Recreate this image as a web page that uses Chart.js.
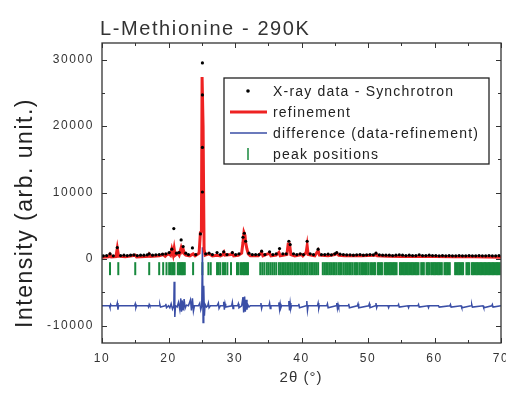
<!DOCTYPE html>
<html>
<head>
<meta charset="utf-8">
<script src="https://cdn.jsdelivr.net/npm/chart.js@4"></script>
<style>
  html, body { margin: 0; padding: 0; background: #fff; }
  #wrap { width: 506px; height: 395px; }
</style>
</head>
<body>
<div id="wrap"><canvas id="xrdChart" width="506" height="395"></canvas></div>
<script>
// observed X-ray points [2theta, intensity]
const xrayData = [
  [10.2,500],[10.7,550],[11.2,800],[11.7,500],[12.3,1750],[12.8,550],[13.3,600],[13.8,550],[14.3,600],[14.8,650],
  [15.3,550],[15.8,600],[16.3,600],[16.8,650],[17.1,800],[17.6,600],[18.1,650],[18.6,700],[19.1,750],[19.6,800],
  [20.1,1000],[20.5,1500],[20.8,4600],[21.2,900],[21.6,1000],[21.9,2900],[22.2,1900],[22.6,900],[23.0,700],[23.6,1700],
  [24.1,700],[24.8,3800],[25.1,10100],[25.1,16800],[25.1,24700],[25.1,29500],[25.6,800],[26.1,900],[26.6,700],[27.3,1000],
  [27.8,700],[28.3,1100],[28.8,700],[29.6,1000],[30.1,700],[30.6,800],[31.2,3300],[31.4,3900],[31.6,2700],[32.1,900],
  [32.6,700],[33.1,700],[33.6,700],[34.0,1200],[34.5,700],[35.2,1100],[35.7,700],[36.2,800],[36.7,1600],[37.2,800],
  [37.7,800],[38.1,2700],[38.3,2200],[38.8,800],[39.3,700],[39.8,800],[40.3,700],[40.85,2700],[41.3,800],[41.8,700],
  [42.5,1500],[43.0,700],[43.5,700],[44.0,750],[44.5,650],[45.0,800],[45.3,1000],[45.8,750],[46.3,700],[46.8,650],
  [47.3,650],[47.8,600],[48.3,650],[48.8,700],[49.3,600],[49.8,650],[50.3,700],[50.8,650],[51.2,900],[51.7,650],
  [52.2,600],[52.7,600],[53.2,600],[53.7,550],[54.2,600],[54.7,650],[55.2,600],[55.7,550],[56.2,600],[56.7,550],
  [57.2,550],[57.7,650],[58.2,550],[58.7,550],[59.2,600],[59.7,550],[60.2,550],[60.7,500],[61.2,550],[61.7,500],
  [62.2,550],[62.7,500],[63.2,500],[63.7,550],[64.2,500],[64.7,500],[65.2,550],[65.7,500],[66.2,500],[66.7,550],
  [67.2,500],[67.7,500],[68.2,550],[68.7,500],[69.2,500],[69.7,550]
];

// calculated profile
const refinement = [
  [10,300],[11.0,350],[11.2,700],[11.4,350],[12.1,400],[12.3,1650],[12.5,450],[13.5,350],[15.0,600],[15.2,350],
  [17.0,450],[17.1,700],[17.3,400],[18.6,500],[19.2,700],[19.5,450],[19.7,650],[20.1,800],[20.3,600],[20.5,1500],
  [20.7,700],[20.85,1600],[21.0,600],[21.4,900],[21.6,600],[21.9,1700],[22.05,1200],[22.2,1500],[22.4,800],[22.6,600],
  [23.2,500],[23.7,800],[24.0,500],[24.6,900],[24.8,4000],[24.95,4200],[25.05,27400],[25.2,20000],[25.3,20000],[25.35,1500],
  [25.5,600],[26.0,800],[26.3,700],[26.6,500],[27.3,600],[27.8,500],[28.2,700],[28.35,1000],[28.5,600],[29.4,700],
  [29.6,900],[29.8,500],[30.5,600],[31.0,900],[31.2,2500],[31.35,4000],[31.5,3600],[31.6,2500],[31.8,1500],[32.0,800],
  [32.3,500],[33.5,500],[34.0,1000],[34.2,500],[35.2,900],[35.4,500],[36.2,600],[36.6,1000],[36.8,500],[37.8,700],
  [38.0,2300],[38.2,2300],[38.4,700],[39.0,500],[40.0,700],[40.2,500],[40.7,1000],[40.85,2000],[41.0,700],[42.0,500],
  [42.5,1300],[42.7,600],[44.0,500],[45.0,700],[45.3,900],[45.6,600],[46.5,500],[48.0,500],[49.0,500],[51.0,600],
  [51.2,800],[51.4,500],[53,450],[55,400],[58,400],[60,400],[63,350],[66,350],[70,300]
];

// difference curve, drawn offset at -7000
const difference = [
  [10,-7000],[11.1,-7000],[11.2,-7300],[11.3,-6800],[11.4,-7000],[12.2,-7000],[12.3,-6600],[12.4,-7600],[12.5,-7000],[14.9,-7000],
  [15.0,-6700],[15.1,-7300],[15.2,-7000],[16.9,-7000],[17.0,-7200],[17.1,-6800],[17.2,-7000],[18.6,-7000],[18.7,-6800],[18.8,-7200],
  [19.5,-7000],[19.6,-6700],[19.7,-7300],[20.0,-7000],[20.2,-7300],[20.4,-6700],[20.6,-7500],[20.8,-7000],[20.85,-3400],[20.95,-8700],
  [21.05,-7000],[21.3,-7200],[21.5,-6500],[21.7,-7600],[21.85,-5900],[21.95,-7900],[22.05,-6200],[22.2,-7700],[22.35,-6000],[22.5,-7400],
  [22.7,-6900],[23.0,-7000],[23.3,-6100],[23.45,-7700],[23.6,-5900],[23.75,-7800],[23.9,-7000],[24.5,-7000],[24.7,-6600],[24.85,-7600],
  [25.0,-7000],[25.1,1800],[25.2,-9500],[25.3,-4000],[25.4,-8500],[25.5,-6800],[25.7,-7200],[25.9,-7000],[26.0,-6600],[26.1,-7300],
  [26.3,-7000],[27.3,-7000],[27.5,-6600],[27.6,-7400],[27.8,-7000],[28.2,-7000],[28.3,-6400],[28.4,-7600],[28.5,-6700],[28.6,-7200],
  [29.5,-7000],[29.6,-6500],[29.7,-7400],[29.8,-7000],[30.4,-7000],[30.5,-6700],[30.6,-7300],[31.0,-7000],[31.2,-5700],[31.3,-8000],
  [31.45,-5600],[31.55,-7900],[31.7,-6100],[31.8,-7600],[31.9,-6800],[32.1,-7200],[32.3,-7000],[33.8,-7000],[33.9,-6600],[34.0,-7400],
  [34.1,-7000],[35.1,-7000],[35.2,-6600],[35.3,-7400],[35.4,-7000],[36.5,-7000],[36.6,-6500],[36.7,-7500],[36.8,-6700],[36.9,-7300],
  [37.0,-7000],[38.0,-7000],[38.1,-6300],[38.2,-7700],[38.3,-6600],[38.4,-7400],[38.5,-7000],[39.5,-7000],[39.6,-6700],[39.7,-7300],
  [40.7,-7000],[40.8,-6300],[40.9,-7700],[41.0,-7000],[42.4,-7000],[42.5,-6600],[42.6,-7400],[42.7,-7000],[43.8,-7000],[43.9,-6700],
  [44.0,-7300],[45.2,-7000],[45.3,-6600],[45.4,-7400],[45.5,-6800],[45.6,-7200],[45.7,-7000],[47,-7000],[47.1,-6700],[47.2,-7300],
  [48.4,-7000],[48.5,-6700],[48.6,-7300],[50.1,-7000],[50.2,-6700],[50.3,-7300],[51.1,-7000],[51.2,-6600],[51.3,-7300],[51.4,-7000],
  [53.0,-7000],[53.1,-7300],[53.2,-7000],[54.5,-7000],[54.6,-6800],[54.7,-7200],[56.0,-7000],[56.1,-7300],[56.2,-7000],[57.5,-7000],
  [57.6,-6800],[57.7,-7200],[59.0,-7000],[59.1,-7300],[59.2,-7000],[60.6,-7000],[60.7,-7200],[62.3,-7000],[62.4,-6800],[62.5,-7200],
  [64.0,-7000],[64.1,-7300],[65.5,-7000],[65.6,-6800],[65.7,-7200],[67.3,-7000],[67.4,-7300],[68.6,-7000],[68.7,-6800],[68.8,-7200],
  [70,-7000]
];

// Bragg peak positions (2theta)
const peakPositions = [
  11.2, 12.45, 15.0, 17.1, 18.6, 19.2, 19.7, 20.1, 20.35, 20.55, 20.75, 20.9, 21.4, 21.6, 21.8, 21.95, 22.1, 22.25, 22.45, 23.7,
  25.1, 26.0, 26.35, 27.3, 27.55, 27.8, 28.2, 28.5, 28.85, 29.4, 30.3, 30.55, 30.9, 31.15, 31.35, 31.55, 31.75, 31.95,
  33.8, 34.1, 34.4, 34.75, 35.0, 35.3, 35.6, 35.9, 36.2, 36.6, 36.85, 37.1, 37.35, 37.6, 37.85, 38.1, 38.35, 38.6, 38.9,
  39.1, 39.35, 39.6, 39.9, 40.15, 40.4, 40.65, 40.9, 41.2, 41.45, 41.7, 41.95, 42.2, 42.5, 43.2, 43.45, 43.7, 43.95, 44.2,
  44.45, 44.75, 45.0, 45.25, 45.55, 45.8, 46.05, 46.35, 46.6, 46.85, 47.15, 47.4, 47.65, 47.95, 48.2, 48.45, 48.75, 49.0,
  49.25, 49.55, 49.8, 50.05, 50.35, 50.6, 50.9, 51.1, 51.5, 51.7, 51.9, 52.1, 52.5, 52.7, 52.9, 53.1, 53.3, 53.5, 53.7,
  53.9, 54.1, 54.3, 54.8, 55.0, 55.2, 55.4, 55.6, 55.8, 56.0, 56.2, 56.4, 56.6, 56.8, 57.0, 57.2, 57.4, 57.6, 58.0, 58.2,
  58.4, 58.8, 59.0, 59.2, 59.5, 59.7, 59.9, 60.1, 60.3, 60.5, 60.7, 60.9, 61.1, 61.5, 61.7, 61.9, 62.1, 62.3, 63.1, 63.3,
  63.5, 63.7, 63.9, 64.1, 64.3, 64.8, 65.0, 65.2, 65.6, 65.8, 66.0, 66.2, 66.4, 66.6, 66.8, 67.0, 67.2, 67.4, 67.6, 67.8,
  68.0, 68.2, 68.4, 68.6, 68.8, 69.0, 69.2, 69.4, 69.6, 69.8
];
const peakLevel = -1425;

const xTicks = [10, 20, 30, 40, 50, 60, 70];
const yTicks = [-10000, 0, 10000, 20000, 30000];

const seriesLabels = ['X-ray data - Synchrotron', 'refinement', 'difference (data-refinement)', 'peak positions'];
const RED = '#ee2222', BLUE = '#3a4ea6', GREEN = '#17893d', INK = '#333333';
const FONT = '"Liberation Sans", Arial, sans-serif';

const pts = arr => arr.map(p => ({ x: p[0], y: p[1] }));

const framePlugin = {
  id: 'frame',
  beforeDraw(chart) {
    // the original print uses widely spaced lettering
    chart.ctx.letterSpacing = '1.6px';
  },
  afterDatasetsDraw(chart) {
    const { ctx, chartArea: a, scales: { x, y } } = chart;
    ctx.save();
    ctx.strokeStyle = INK;
    ctx.lineWidth = 1.3;
    ctx.strokeRect(a.left, a.top, a.right - a.left, a.bottom - a.top);
    ctx.lineWidth = 1;
    ctx.beginPath();
    for (let v = 10; v <= 70; v += 5) {
      const px = Math.round(x.getPixelForValue(v)) + 0.5;
      const len = v % 10 === 0 ? 5 : 3;
      ctx.moveTo(px, a.bottom); ctx.lineTo(px, a.bottom - len);
      ctx.moveTo(px, a.top); ctx.lineTo(px, a.top + len);
    }
    for (let v = -10000; v <= 30000; v += 5000) {
      const py = Math.round(y.getPixelForValue(v)) + 0.5;
      const len = v % 10000 === 0 ? 5 : 3;
      ctx.moveTo(a.left, py); ctx.lineTo(a.left + len, py);
      ctx.moveTo(a.right, py); ctx.lineTo(a.right - len, py);
    }
    ctx.stroke();

    // titles
    ctx.fillStyle = INK;
    ctx.letterSpacing = '1.6px';
    ctx.font = '20px ' + FONT;
    ctx.textAlign = 'left';
    ctx.textBaseline = 'alphabetic';
    ctx.fillText('L-Methionine - 290K', 100, 35);
    ctx.letterSpacing = '1px';
    ctx.font = '15px ' + FONT;
    ctx.textAlign = 'center';
    ctx.textBaseline = 'middle';
    ctx.fillText('2θ (°)', 301, 378);
    ctx.save();
    ctx.translate(26, 213);
    ctx.rotate(-Math.PI / 2);
    ctx.letterSpacing = '1.5px';
    ctx.font = '23px ' + FONT;
    ctx.fillStyle = '#222';
    ctx.fillText('Intensity (arb. unit.)', 0, 0);
    ctx.restore();

    // legend
    const bx = 224, by = 78, bw = 265, bh = 86;
    ctx.fillStyle = '#fff';
    ctx.fillRect(bx, by, bw, bh);
    ctx.strokeStyle = '#222';
    ctx.lineWidth = 1.3;
    ctx.strokeRect(bx, by, bw, bh);
    const rows = [91, 112, 133, 154];
    ctx.letterSpacing = '1.2px';
    ctx.font = '14px ' + FONT;
    ctx.textAlign = 'left';
    ctx.textBaseline = 'middle';
    seriesLabels.forEach((lab, i) => {
      const ry = rows[i];
      if (i === 0) {
        ctx.fillStyle = '#000';
        ctx.beginPath(); ctx.arc(248, ry, 1.8, 0, Math.PI * 2); ctx.fill();
      } else if (i === 1 || i === 2) {
        ctx.strokeStyle = i === 1 ? RED : BLUE;
        ctx.lineWidth = i === 1 ? 3 : 1.5;
        ctx.beginPath(); ctx.moveTo(230, ry); ctx.lineTo(267, ry); ctx.stroke();
      } else {
        ctx.strokeStyle = GREEN;
        ctx.lineWidth = 1.5;
        ctx.beginPath(); ctx.moveTo(248, ry - 6); ctx.lineTo(248, ry + 6); ctx.stroke();
      }
      ctx.fillStyle = '#222';
      ctx.fillText(lab, 273, ry + 1);
    });
    ctx.restore();
  }
};

new Chart(document.getElementById('xrdChart'), {
  type: 'scatter',
  data: {
    datasets: [
      { label: seriesLabels[0], data: pts(xrayData), showLine: false,
        pointRadius: 1.6, pointBackgroundColor: '#000', pointBorderWidth: 0 },
      { label: seriesLabels[1], data: pts(refinement), showLine: true,
        borderColor: RED, borderWidth: 3, pointRadius: 0, tension: 0 },
      { label: seriesLabels[2], data: pts(difference), showLine: true,
        borderColor: BLUE, borderWidth: 1.5, pointRadius: 0, tension: 0 },
      { label: seriesLabels[3], data: peakPositions.map(v => ({ x: v, y: peakLevel })), showLine: false,
        pointStyle: 'line', rotation: 90, pointRadius: 6.5, pointBorderColor: GREEN, pointBorderWidth: 2 }
    ]
  },
  options: {
    responsive: false,
    animation: false,
    layout: { autoPadding: false, padding: { left: 0, right: 5, top: 43, bottom: 0 } },
    plugins: { legend: { display: false }, tooltip: { enabled: false } },
    scales: {
      x: {
        type: 'linear', min: 10, max: 70,
        afterFit: s => { s.height = 52; s.paddingLeft = 0; s.paddingRight = 0; },
        afterBuildTicks: s => { s.ticks = xTicks.map(v => ({ value: v })); },
        grid: { display: false, drawTicks: false }, border: { display: false },
        ticks: { padding: 8, color: INK, maxRotation: 0, callback: v => String(v),
                 font: { family: FONT, size: 12 } }
      },
      y: {
        type: 'linear', min: -12600, max: 32500,
        afterFit: s => { s.width = 102; s.paddingTop = 0; s.paddingBottom = 0; },
        afterBuildTicks: s => { s.ticks = yTicks.map(v => ({ value: v })); },
        grid: { display: false, drawTicks: false }, border: { display: false },
        ticks: { padding: 8, color: INK, callback: v => String(v),
                 font: { family: FONT, size: 12 } }
      }
    }
  },
  plugins: [framePlugin]
});
</script>
</body>
</html>
